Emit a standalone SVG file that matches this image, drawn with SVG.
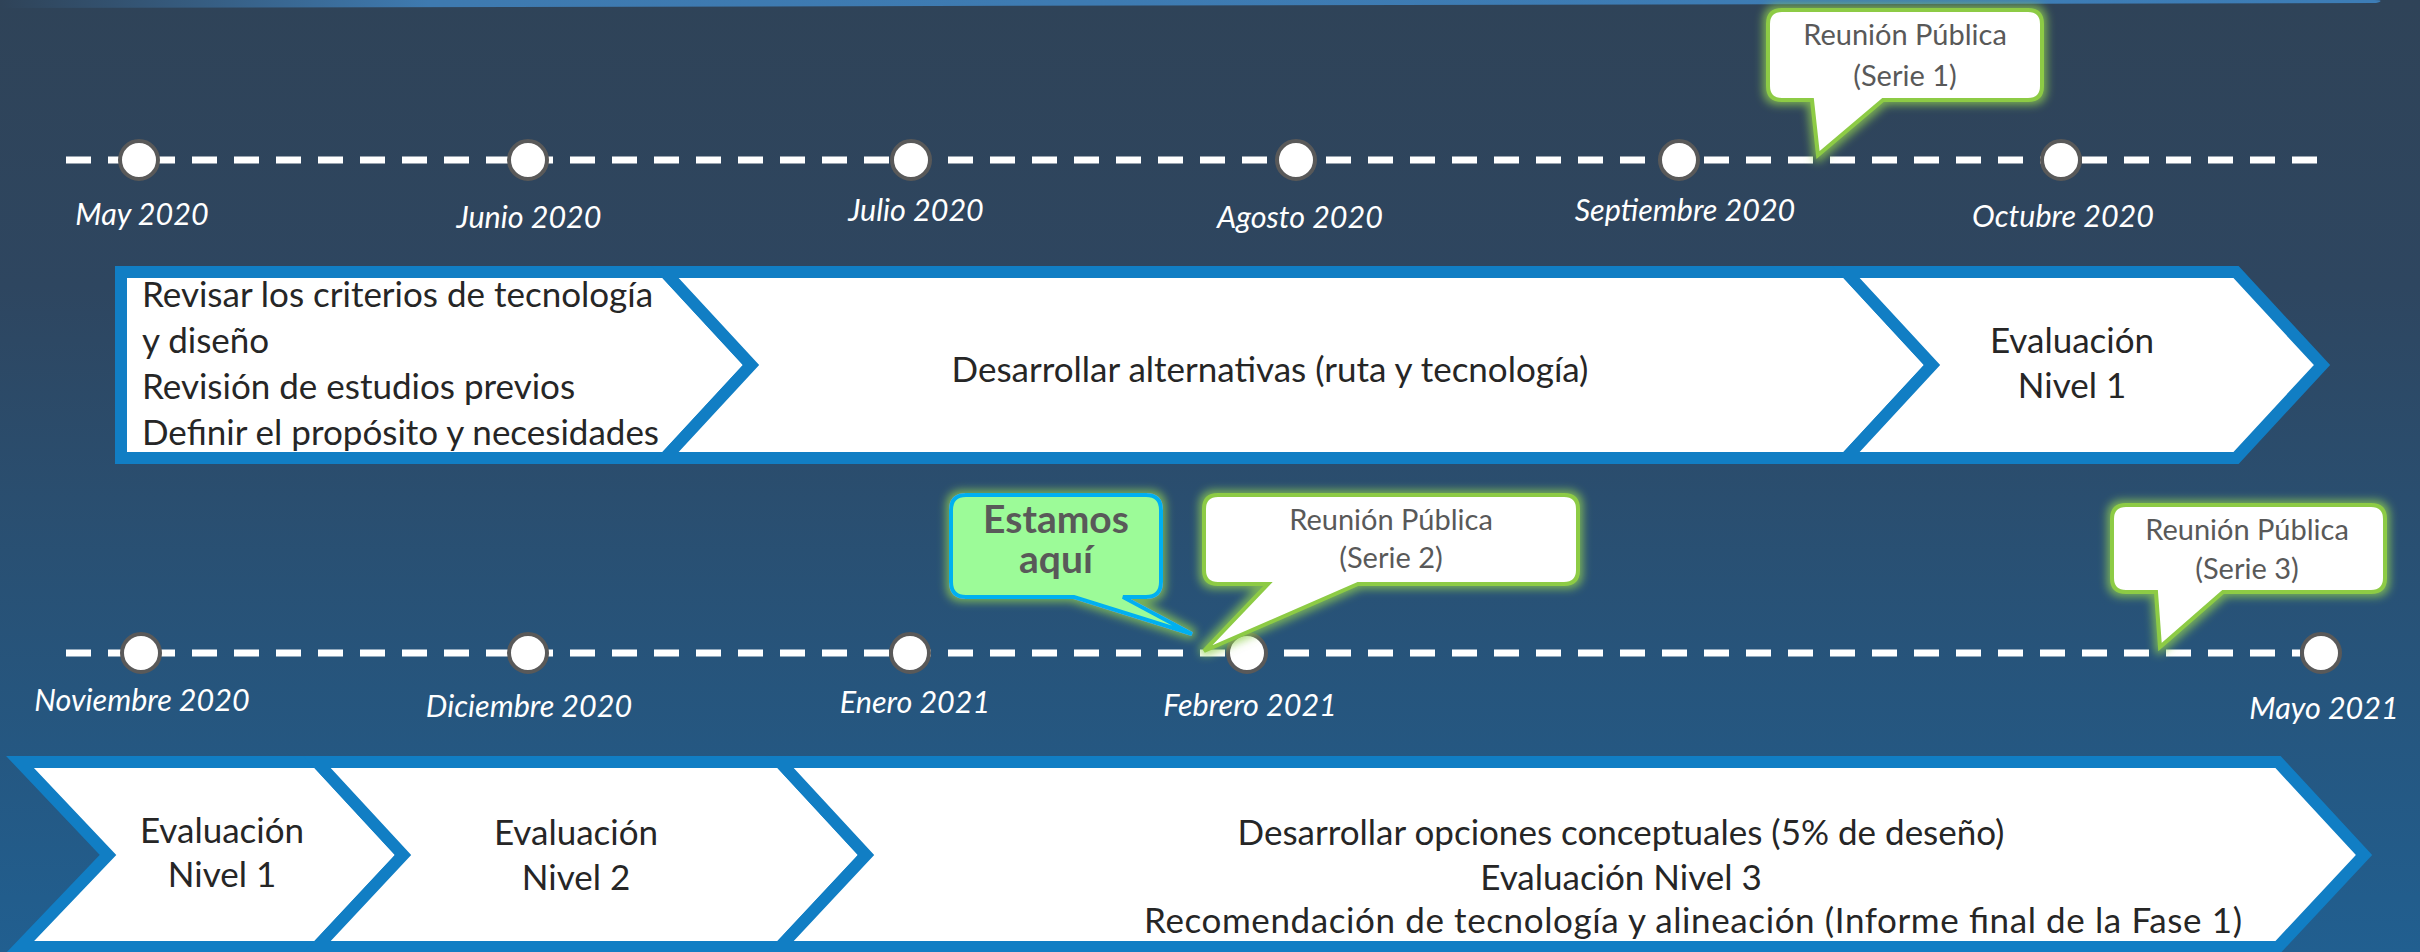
<svg xmlns="http://www.w3.org/2000/svg" width="2420" height="952" viewBox="0 0 2420 952">
<defs>
<linearGradient id="bg" x1="0" y1="0" x2="0" y2="1">
<stop offset="0" stop-color="#2F4358"/>
<stop offset="0.3" stop-color="#2E4660"/>
<stop offset="1" stop-color="#215F90"/>
</linearGradient>
<linearGradient id="bar" x1="0" y1="0" x2="1" y2="0">
<stop offset="0" stop-color="#2F4358"/>
<stop offset="0.18" stop-color="#3E7AB0"/>
<stop offset="1" stop-color="#3D7DB6"/>
</linearGradient>
<filter id="glow" x="-20%" y="-20%" width="140%" height="140%">
<feMorphology in="SourceAlpha" operator="dilate" radius="3" result="d"/>
<feGaussianBlur in="d" stdDeviation="4" result="b"/>
<feFlood flood-color="#92D050" flood-opacity="0.75"/>
<feComposite in2="b" operator="in" result="g"/>
<feMerge><feMergeNode in="g"/><feMergeNode in="SourceGraphic"/></feMerge>
</filter>
<style>
.tl{stroke:#FFFFFF;stroke-width:7;stroke-dasharray:25 17;fill:none}
.dot{fill:#FFFFFF;stroke:#595959;stroke-width:4}
.mon{font-family:Lato,"Liberation Sans",sans-serif;font-style:italic;font-size:30.5px;fill:#FFFFFF;text-anchor:middle}
.chev{fill:#FFFFFF;stroke:#117EC4;stroke-width:12;stroke-linejoin:miter}
.st{font-family:Lato,"Liberation Sans",sans-serif;font-size:35px;fill:#262626}
.mid{text-anchor:middle}
.co{fill:#FFFFFF;stroke:#8DCB45;stroke-width:4;filter:url(#glow)}
.cot{font-family:Lato,"Liberation Sans",sans-serif;font-size:29px;fill:#595959;text-anchor:middle}
.here{fill:#9CFB98;stroke:#00B0F0;stroke-width:4;filter:url(#glow)}
.heret{font-family:Lato,"Liberation Sans",sans-serif;font-weight:bold;font-size:39px;fill:#595959;text-anchor:middle}
</style>
</defs>
<rect x="0" y="0" width="2420" height="952" fill="url(#bg)"/>
<path d="M0,0 L2374,0 Q2386,0 2376,3 L0,8 Z" fill="url(#bar)"/>

<g id="connectors">
<line class="tl" x1="66" y1="160" x2="2320" y2="160"/>
<line class="tl" x1="66" y1="653" x2="2300" y2="653"/>
</g>

<g id="row1-shape1">
<polygon class="chev" points="121,272 665,272 751,365 665,458 121,458"/>
<text class="st" x="142" y="307">Revisar los criterios de tecnología</text>
<text class="st" x="142" y="353">y diseño</text>
<text class="st" x="142" y="399">Revisión de estudios previos</text>
<text class="st" x="142" y="445">Definir el propósito y necesidades</text>
</g>
<g id="row1-shape2">
<polygon class="chev" points="665,272 1846,272 1932,365 1846,458 665,458 751,365"/>
<text class="st mid" x="1270" y="382">Desarrollar alternativas (ruta y tecnología)</text>
</g>
<g id="row1-shape3">
<polygon class="chev" points="1846,272 2236,272 2322,365 2236,458 1846,458 1932,365"/>
<text class="st mid" x="2072" y="353">Evaluación</text>
<text class="st mid" x="2072" y="398">Nivel 1</text>
</g>

<g id="row2-shape1">
<polygon class="chev" points="20,762 317,762 403,855 317,947 20,947 108,855"/>
<text class="st mid" x="222" y="843">Evaluación</text>
<text class="st mid" x="222" y="887">Nivel 1</text>
</g>
<g id="row2-shape2">
<polygon class="chev" points="317,762 780,762 866,855 780,947 317,947 403,855"/>
<text class="st mid" x="576" y="845">Evaluación</text>
<text class="st mid" x="576" y="890">Nivel 2</text>
</g>
<g id="row2-shape3">
<polygon class="chev" points="780,762 2278,762 2364,855 2278,947 780,947 866,855"/>
<text class="st mid" x="1621" y="845">Desarrollar opciones conceptuales (5% de deseño)</text>
<text class="st mid" x="1621" y="890">Evaluación Nivel 3</text>
<text class="st mid" x="1693" y="933" textLength="1098" lengthAdjust="spacing">Recomendación de tecnología y alineación (Informe final de la Fase 1)</text>
</g>

<g id="m-may2020"><circle class="dot" cx="139" cy="160" r="19"/><text class="mon" x="142" y="225">May 2020</text></g>
<g id="m-jun2020"><circle class="dot" cx="528" cy="160" r="19"/><text class="mon" x="529" y="228">Junio 2020</text></g>
<g id="m-jul2020"><circle class="dot" cx="911" cy="160" r="19"/><text class="mon" x="916" y="221">Julio 2020</text></g>
<g id="m-ago2020"><circle class="dot" cx="1296" cy="160" r="19"/><text class="mon" x="1300" y="228">Agosto 2020</text></g>
<g id="m-sep2020"><circle class="dot" cx="1679" cy="160" r="19"/><text class="mon" x="1685" y="221">Septiembre 2020</text></g>
<g id="m-oct2020"><circle class="dot" cx="2061" cy="160" r="19"/><text class="mon" x="2063" y="227">Octubre 2020</text></g>

<g id="m-nov2020"><circle class="dot" cx="141" cy="653" r="19"/><text class="mon" x="142" y="711">Noviembre 2020</text></g>
<g id="m-dic2020"><circle class="dot" cx="528" cy="653" r="19"/><text class="mon" x="529" y="717">Diciembre 2020</text></g>
<g id="m-ene2021"><circle class="dot" cx="910" cy="653" r="19"/><text class="mon" x="915" y="713">Enero 2021</text></g>
<g id="m-feb2021"><circle class="dot" cx="1247" cy="653" r="19"/><text class="mon" x="1250" y="716">Febrero 2021</text></g>
<g id="m-may2021"><circle class="dot" cx="2321" cy="653" r="19"/><text class="mon" x="2324" y="719">Mayo 2021</text></g>

<g id="callout-serie1">
<path class="co" d="M1782,10 H2028 Q2042,10 2042,24 V86 Q2042,100 2028,100 H1883 L1818,155 L1812,100 H1782 Q1768,100 1768,86 V24 Q1768,10 1782,10 Z"/>
<text class="cot" x="1905" y="45">Reunión Pública</text>
<text class="cot" x="1905" y="86">(Serie 1)</text>
</g>
<g id="callout-serie2">
<path class="co" d="M1218,495 H1564 Q1578,495 1578,509 V570 Q1578,584 1564,584 H1358 L1204,651 L1268,584 H1218 Q1204,584 1204,570 V509 Q1204,495 1218,495 Z"/>
<text class="cot" x="1391" y="530">Reunión Pública</text>
<text class="cot" x="1391" y="568">(Serie 2)</text>
</g>
<g id="callout-serie3">
<path class="co" d="M2126,505 H2371 Q2385,505 2385,519 V578 Q2385,592 2371,592 H2223 L2160,647 L2156,592 H2126 Q2112,592 2112,578 V519 Q2112,505 2126,505 Z"/>
<text class="cot" x="2247" y="540">Reunión Pública</text>
<text class="cot" x="2247" y="579">(Serie 3)</text>
</g>
<g id="callout-aqui">
<path class="here" d="M966,495 H1146 Q1161,495 1161,510 V582 Q1161,597 1146,597 H1123 L1192,634 L1074,597 H966 Q951,597 951,582 V510 Q951,495 966,495 Z"/>
<text class="heret" x="1056" y="533">Estamos</text>
<text class="heret" x="1056" y="573">aquí</text>
</g>
</svg>
